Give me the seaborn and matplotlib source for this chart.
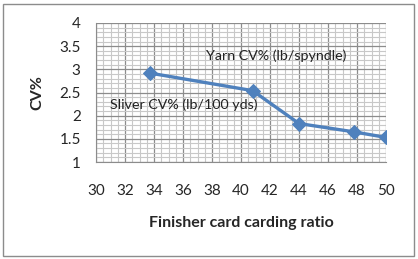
import matplotlib
matplotlib.use("Agg")
import matplotlib.pyplot as plt
import seaborn as sns
import pandas as pd
from matplotlib.ticker import MultipleLocator
from matplotlib.patches import Rectangle

ratio = [33.7, 40.8, 44.0, 47.8, 50.0]
cv = [2.92, 2.54, 1.83, 1.65, 1.53]
x_ticks = [30, 32, 34, 36, 38, 40, 42, 44, 46, 48, 50]
y_ticks = [1, 1.5, 2, 2.5, 3, 3.5, 4]

sns.set_style("white")
plt.rcParams['font.family'] = ['Lato', 'DejaVu Sans']

df = pd.DataFrame({"ratio": ratio, "cv": cv})

fig = plt.figure(figsize=(4.18, 2.59), dpi=100)
ax = fig.add_axes([96/418, 1-162/259, 290/418, 139/259])

ax.xaxis.set_minor_locator(MultipleLocator(0.5))
ax.yaxis.set_minor_locator(MultipleLocator(0.1))
ax.grid(which='minor', color='#c8c8c8', linewidth=0.8)
ax.grid(which='major', color='#8c8c8c', linewidth=0.9)
ax.set_axisbelow(True)

sns.lineplot(data=df, x="ratio", y="cv", ax=ax, color='#4F81BD', linewidth=2.4,
             marker='D', markersize=7, markeredgecolor='#4F81BD')

ax.set_xlim(30, 50)
ax.set_ylim(1, 4)
ax.set_xticks(x_ticks)
ax.set_xticklabels([str(v) for v in x_ticks])
ax.set_yticks(y_ticks)
ax.set_yticklabels([f"{v:g}" for v in y_ticks])
ax.tick_params(axis='both', which='major', length=5, color='#8c8c8c', labelsize=11, pad=2)
ax.tick_params(axis='x', pad=11)
ax.tick_params(axis='y', pad=6)
ax.tick_params(which='minor', length=0)
for s in ax.spines.values():
    s.set_visible(False)
ax.spines['left'].set_visible(True)
ax.spines['bottom'].set_visible(True)
ax.spines['left'].set_color('#8c8c8c')
ax.spines['bottom'].set_color('#8c8c8c')

ax.set_xlabel("Finisher card carding ratio", fontsize=11.5, fontweight='bold', labelpad=13)
ax.set_ylabel("CV%", fontsize=11.5, fontweight='bold', labelpad=11)

ax.text(37.6, 3.29, "Yarn CV% (lb/spyndle)", fontsize=10.3, color='#222222', va='center')
ax.text(31.0, 2.24, "Sliver CV% (lb/100 yds)", fontsize=10.3, color='#222222', va='center')

fig.patches.append(Rectangle((3/418, 3/259), 411/418, 252/259, transform=fig.transFigure,
                             fill=False, edgecolor='#8c8c8c', linewidth=1))

fig.savefig("out.png", dpi=100)
